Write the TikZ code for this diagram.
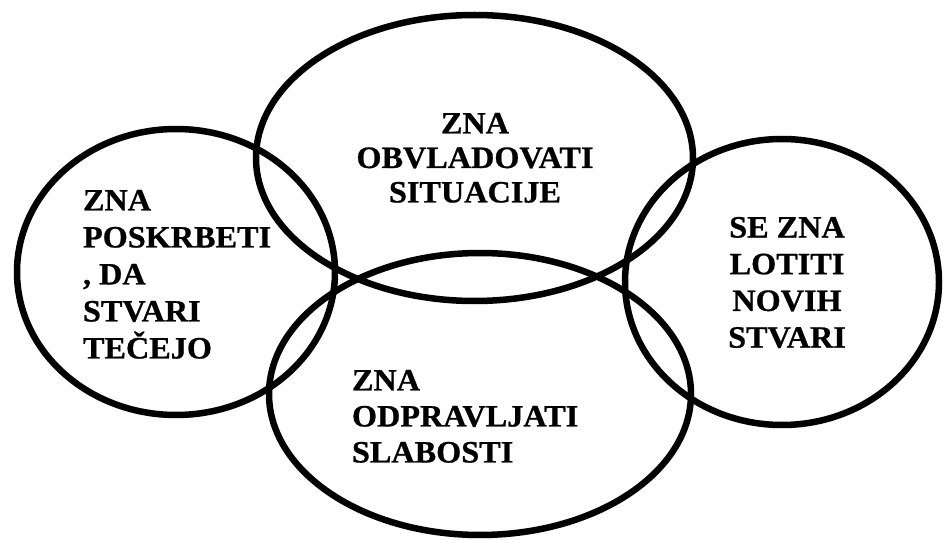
\documentclass[tikz,border=0pt]{standalone}
\usepackage{fontspec}
\setmainfont{Liberation Serif}[FakeStretch=1.04, BoldFeatures={FakeBold=0.8}]
\usetikzlibrary{shapes.geometric}
\tikzset{
  ring/.style={draw=black, line width=6.5pt, ellipse, inner sep=0pt, outer sep=0pt},
  lbl/.style={inner sep=0pt, outer sep=0pt, font=\bfseries\fontsize{31}{#1}\selectfont},
}
\begin{document}
\begin{tikzpicture}[x=1pt,y=-1pt]
\useasboundingbox[fill=white] (0,0) rectangle (943,540);
\node[ring, minimum width=437pt, minimum height=286pt] (top) at (474.5,158) {};
\node[ring, minimum width=318pt, minimum height=286pt] (left) at (176,272) {};
\node[ring, minimum width=422pt, minimum height=282pt] (bottom) at (480,394) {};
\node[ring, minimum width=314pt, minimum height=286pt] (right) at (782,282) {};
\node[lbl=34.5, anchor=north, align=center] (ttop) at (475,113) {ZNA\\OBVLADOVATI\\SITUACIJE};
\node[lbl=37, anchor=north west, align=left] (tleft) at (83,190) {ZNA\\POSKRBETI\\, DA\\STVARI\\TEČEJO};
\node[lbl=36.7, anchor=north, align=center] (tright) at (787,217) {SE ZNA\\LOTITI\\NOVIH\\STVARI};
\node[lbl=36, anchor=north west, align=left] (tbottom) at (352,370) {ZNA\\ODPRAVLJATI\\SLABOSTI};
\end{tikzpicture}
\end{document}
